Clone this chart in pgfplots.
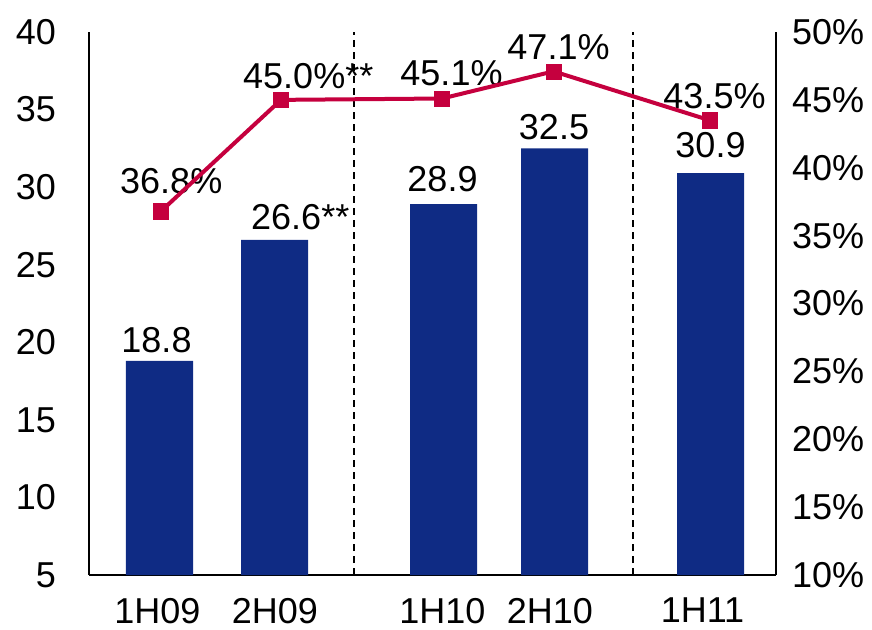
\documentclass[border=0pt]{standalone}
\usepackage{pgfplots}
\pgfplotsset{compat=1.18}
\usepackage{fontspec}
\setmainfont{Liberation Sans}
\definecolor{barblue}{RGB}{15,43,132}
\definecolor{linered}{RGB}{197,0,62}
\begin{document}
\fontsize{36bp}{43bp}\selectfont
\begin{tikzpicture}
\pgfplotsset{
  common/.style={
    scale only axis, width=687bp, height=543bp,
    at={(0,0)}, anchor=south west,
    xmin=89, xmax=776,
    major tick length=0pt,
    axis line style={line width=2bp, -},
    /pgf/number format/assume math mode=true,
    tick label style={font=\fontsize{36bp}{43bp}\selectfont, inner sep=0pt},
    clip mode=individual,
  }
}
\begin{axis}[common,
  ymin=5, ymax=40,
  axis x line*=bottom, axis y line*=left,
  xtick={157.5,275,442.5,550,702.5},
  xticklabels={1H09,2H09,1H10,2H10,1H11},
  ytick={5,10,...,40},
  yticklabel style={anchor=east, xshift=-33bp},
  xticklabel style={anchor=north, yshift=-23bp},
]
\addplot[ybar, bar width=67, fill=barblue, draw=none] coordinates {(159.5,18.8) (274.5,26.6) (443.5,28.9) (554.5,32.5) (710.5,30.9)};
\addplot[black, line width=1.6bp, dash pattern=on 7bp off 5bp] coordinates {(354,5) (354,40)};
\addplot[black, line width=1.6bp, dash pattern=on 7bp off 5bp] coordinates {(633,5) (633,40)};
\begin{scope}[every node/.style={inner sep=0pt, font=\fontsize{36bp}{43bp}\selectfont}]
\node[anchor=base] at (axis cs:156.5,19.31) {18.8};
\node[anchor=base west] at (axis cs:251,27.24) {26.6**};
\node[anchor=base west] at (axis cs:120,29.56) {36.8\%};
\node[anchor=base west] at (axis cs:243,36.39) {45.0\%**};
\node[anchor=base] at (axis cs:451.5,36.58) {45.1\%};
\node[anchor=base] at (axis cs:558.5,38.20) {47.1\%};
\node[anchor=base] at (axis cs:442.5,29.69) {28.9};
\node[anchor=base] at (axis cs:554,33.04) {32.5};
\node[anchor=base] at (axis cs:714.5,35.10) {43.5\%};
\node[anchor=base] at (axis cs:710.5,31.88) {30.9};
\end{scope}
\end{axis}
\begin{axis}[common,
  ymin=10, ymax=50,
  axis y line*=right, axis x line=none,
  ytick={10,15,...,50},
  yticklabels={10\%,15\%,20\%,25\%,30\%,35\%,40\%,45\%,50\%},
  yticklabel style={anchor=west, xshift=16bp},
]
\addplot[linered, line width=4bp, mark=square*, mark size=7.6bp, mark options={solid, line width=0.5bp}] coordinates {(161,36.8) (281,45.0) (442,45.1) (553.5,47.1) (709.6,43.5)};
\end{axis}
\pgfresetboundingbox
\path (-89bp,-55bp) rectangle (783bp,575bp);
\end{tikzpicture}
\end{document}
